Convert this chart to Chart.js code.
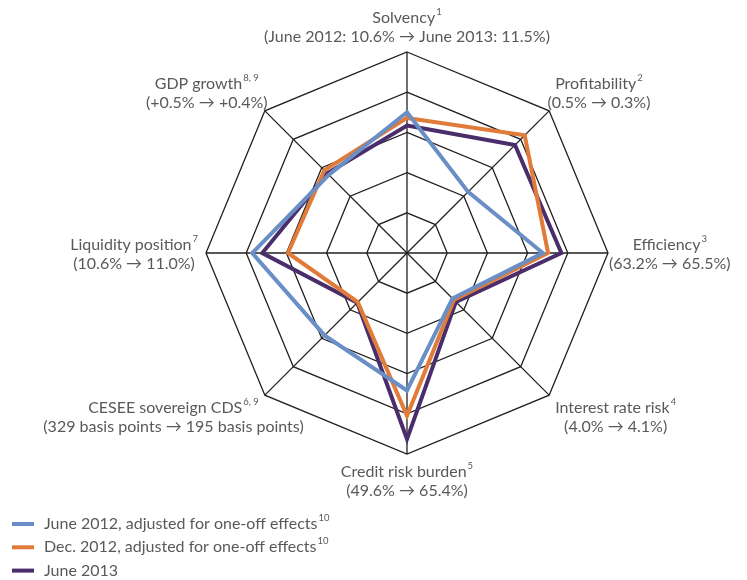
<!DOCTYPE html>
<html>
<head>
<meta charset="utf-8">
<script src="https://cdn.jsdelivr.net/npm/chart.js@4.4.0/dist/chart.umd.min.js"></script>
<style>
body { margin: 0; background: #fff; }
</style>
</head>
<body>
<canvas id="radarChart" width="747" height="580"></canvas>
<script>
// axes, clockwise from the top
const axisNames = ['Solvency', 'Profitability', 'Efficiency', 'Interest rate risk', 'Credit risk burden', 'CESEE sovereign CDS', 'Liquidity position', 'GDP growth'];
const axisNotes = ['1', '2', '3', '4', '5', '6, 9', '7', '8, 9'];
const axisDetails = [
    '(June 2012: 10.6% \u2192 June 2013: 11.5%)',
    '(0.5% \u2192 0.3%)',
    '(63.2% \u2192 65.5%)',
    '(4.0% \u2192 4.1%)',
    '(49.6% \u2192 65.4%)',
    '(329 basis points \u2192 195 basis points)',
    '(10.6% \u2192 11.0%)',
    '(+0.5% \u2192 +0.4%)'
];

const june2012 = [3.5, 2.15, 3.38, 1.6, 3.42, 2.9, 3.85, 2.75];
const dec2012 = [3.36, 4.14, 3.51, 1.65, 4.05, 1.73, 2.96, 2.91];
const june2013 = [3.17, 3.8, 3.84, 1.72, 4.63, 1.75, 3.6, 2.8];

const seriesNames = ['June 2012, adjusted for one-off effects', 'Dec. 2012, adjusted for one-off effects', 'June 2013'];
const seriesNotes = ['10', '10', ''];
const seriesColors = ['#6a8ec6', '#e07b39', '#4a2d6b'];

const textColor = '#58595b';
const fontFamily = 'Lato, "Open Sans", "DejaVu Sans", sans-serif';
const mainFont = '16px ' + fontFamily;
const noteFont = '9.5px ' + fontFamily;

// text with a small raised note after it, centred on cx
function drawNoted(ctx, text, note, cx, cy) {
    const w = textWidth(ctx, text, note);
    const x0 = cx - w / 2;
    ctx.font = mainFont;
    const w1 = ctx.measureText(text).width;
    ctx.fillText(text, x0, cy);
    if (note) {
        ctx.font = noteFont;
        ctx.fillText(note, x0 + w1 + 1, cy - 6);
    }
}

function textWidth(ctx, text, note) {
    ctx.font = mainFont;
    let w = ctx.measureText(text).width;
    if (note) {
        ctx.font = noteFont;
        w += ctx.measureText(note).width + 1;
    }
    return w;
}

const axisLabelPlugin = {
    id: 'axisLabels',
    afterDraw(chart) {
        const ctx = chart.ctx;
        const scale = chart.scales.r;
        ctx.save();
        ctx.fillStyle = textColor;
        ctx.textAlign = 'left';
        ctx.textBaseline = 'middle';
        axisNames.forEach((name, i) => {
            const pos = scale.getPointPosition(i, scale.drawingArea);
            const angle = scale.getIndexAngle(i) - Math.PI / 2;
            const dx = Math.cos(angle), dy = Math.sin(angle);
            const w1 = textWidth(ctx, name, axisNotes[i]);
            const w2 = textWidth(ctx, axisDetails[i], '');
            const wMax = Math.max(w1, w2);
            let cx = pos.x, y1;
            if (Math.abs(dx) < 0.1) {
                y1 = dy < 0 ? pos.y - 34 : pos.y + 18;
            } else if (Math.abs(dy) < 0.1) {
                cx = dx > 0 ? pos.x + 1 + wMax / 2 : pos.x - 8 - wMax / 2;
                y1 = pos.y - 8;
            } else {
                cx = pos.x + Math.sign(dx) * (w1 / 2 + 6);
                y1 = dy < 0 ? pos.y - 27 : pos.y + 13;
            }
            drawNoted(ctx, name, axisNotes[i], cx, y1);
            drawNoted(ctx, axisDetails[i], '', cx, y1 + 19);
        });
        ctx.restore();
    }
};

const legendPlugin = {
    id: 'stackedLegend',
    afterDraw(chart) {
        const ctx = chart.ctx;
        ctx.save();
        ctx.textBaseline = 'middle';
        chart.data.datasets.forEach((ds, i) => {
            const y = 524 + i * 23.3;
            ctx.fillStyle = ds.borderColor;
            ctx.fillRect(12, y - 2, 22, 4);
            ctx.fillStyle = textColor;
            ctx.font = mainFont;
            const w = ctx.measureText(ds.label).width;
            ctx.fillText(ds.label, 44, y);
            if (seriesNotes[i]) {
                ctx.font = noteFont;
                ctx.fillText(seriesNotes[i], 44 + w + 1, y - 6);
            }
        });
        ctx.restore();
    }
};

const seriesData = [june2012, dec2012, june2013];

new Chart(document.getElementById('radarChart'), {
    type: 'radar',
    data: {
        labels: axisNames,
        datasets: seriesData.map((vals, i) => ({
            label: seriesNames[i],
            data: vals,
            borderColor: seriesColors[i],
            backgroundColor: seriesColors[i],
            borderWidth: 4,
            borderJoinStyle: 'miter',
            fill: false,
            pointRadius: 0,
            pointHoverRadius: 0
        }))
    },
    options: {
        responsive: false,
        animation: false,
        devicePixelRatio: 1,
        layout: {
            padding: { left: 206, right: 139, top: 52, bottom: 126 }
        },
        plugins: {
            legend: { display: false },
            tooltip: { enabled: false }
        },
        scales: {
            r: {
                min: 0,
                max: 5,
                ticks: { stepSize: 1, display: false },
                grid: { color: '#231f20', lineWidth: 1.3 },
                angleLines: { color: '#231f20', lineWidth: 1.3 },
                pointLabels: { display: false }
            }
        }
    },
    plugins: [axisLabelPlugin, legendPlugin]
});
</script>
</body>
</html>
